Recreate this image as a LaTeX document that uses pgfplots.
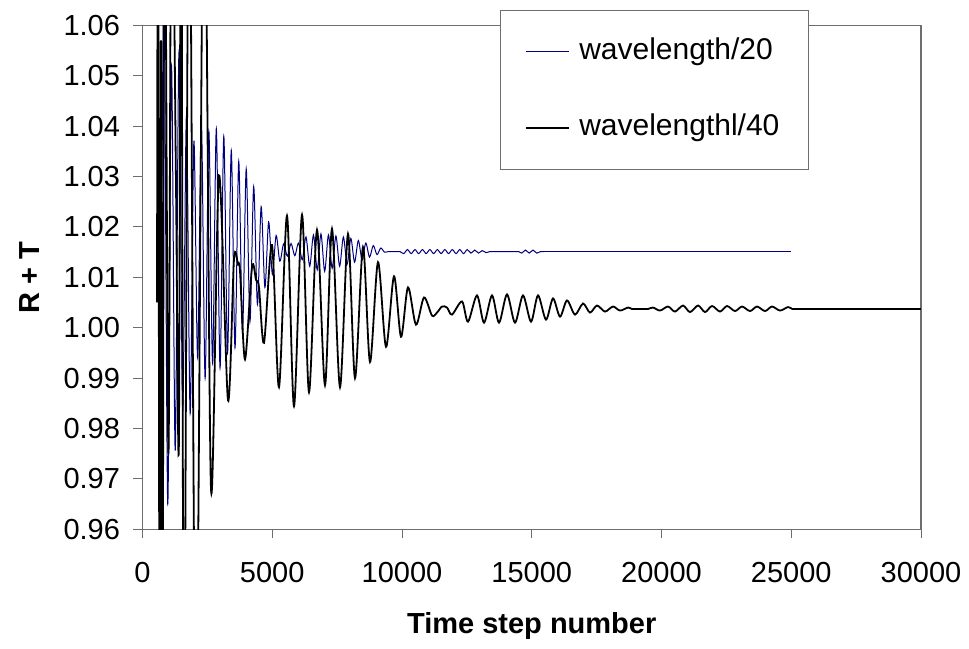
\documentclass[border=0pt]{standalone}
\usepackage{fontspec}
\setmainfont{Liberation Sans}
\usepackage{pgfplots}
\pgfplotsset{compat=1.18}
\usepackage{pgfplotstable}
\usetikzlibrary{calc}
\definecolor{navyline}{RGB}{0,0,128}
\definecolor{axgray}{RGB}{110,110,110}

\pgfplotstableread{
step val
636 1.0150
713 1.0060
829 1.0680
973 0.9650
1117 1.0520
1261 0.9756
1405 1.0545
1549 0.9836
1693 1.0420
1837 0.9830
1981 1.0370
2125 0.9940
2269 1.0410
2413 0.9900
2557 1.0390
2701 0.9930
2845 1.0395
2989 0.9920
3133 1.0380
3277 0.9950
3421 1.0352
3565 0.9960
3709 1.0330
3853 0.9990
3997 1.0315
4141 1.0012
4285 1.0280
4429 1.0046
4573 1.0240
4717 1.0080
4861 1.0210
5005 1.0106
5149 1.0183
5293 1.0132
5437 1.0166
5581 1.0142
5725 1.0167
5869 1.0143
6013 1.0168
6157 1.0135
6301 1.0180
6445 1.0122
6589 1.0184
6733 1.0115
6877 1.0186
7021 1.0112
7165 1.0184
7309 1.0118
7453 1.0182
7597 1.0122
7741 1.0180
7885 1.0126
8029 1.0177
8173 1.0130
8317 1.0173
8461 1.0135
8605 1.0168
8749 1.0140
8893 1.0163
9037 1.0145
9181 1.0158
9325 1.0150
9469 1.0151
9613 1.0151
9757 1.0151
9923 1.0151
10067 1.0147
10211 1.0155
10355 1.0147
10499 1.0155
10643 1.0147
10787 1.0155
10931 1.0147
11075 1.0155
11219 1.0147
11363 1.0155
11507 1.0147
11651 1.0155
11795 1.0147
11939 1.0155
12083 1.0147
12227 1.0155
12371 1.0147
12515 1.0155
12659 1.0148
12803 1.0154
12947 1.0148
13091 1.0153
13235 1.0149
13379 1.0151
13523 1.0151
13667 1.0151
13811 1.0151
13955 1.0151
14099 1.0151
14243 1.0151
14387 1.0151
14500 1.0151
14615 1.0148
14759 1.0154
14903 1.0148
15047 1.0154
15191 1.0148
15335 1.0151
15479 1.0151
}\bluedata

\pgfplotstableread{
step val
15479 1.0151
25000 1.0151
}\bluetail

\pgfplotstableread{
step val
560 1.0050
600 1.1000
660 0.9200
710 1.0570
770 0.9200
850 1.1000
1000 0.9750
1120 1.1000
1290 1.0290
1400 0.9760
1490 1.1000
1600 0.9200
1800 1.1000
2060 0.9200
2370 1.1000
2640 0.9680
2948 1.0302
3295 0.9856
3526 1.0136
3681 1.0125
3758 1.0112
3950 0.9937
4220 1.0120
4374 1.0095
4490 1.0080
4682 0.9970
4990 1.0164
5260 0.9882
5569 1.0222
5838 0.9844
6147 1.0224
6416 0.9872
6725 1.0194
7033 0.9886
7302 1.0196
7611 0.9882
7919 1.0186
8189 0.9900
8497 1.0160
8767 0.9932
9075 1.0130
9384 0.9962
9692 1.0102
9962 0.9982
10231 1.0080
10540 1.0006
10848 1.0060
11156 1.0024
11349 1.0030
11542 1.0042
11734 1.0040
11927 1.0026
12312 1.0052
12543 1.0012
12890 1.0064
13161 1.0010
13469 1.0064
13739 1.0010
14047 1.0066
14355 1.0010
14663 1.0064
14972 1.0012
15241 1.0064
15549 1.0016
15819 1.0058
16089 1.0022
16359 1.0054
16667 1.0026
16975 1.0048
17245 1.0030
17515 1.0044
17823 1.0032
18131 1.0042
18401 1.0034
18709 1.0040
18864 1.0037
19018 1.0037
19172 1.0037
19326 1.0037
19480 1.0037
19673 1.0040
19943 1.0034
20251 1.0042
20521 1.0032
20829 1.0044
21099 1.0031
21408 1.0044
21677 1.0031
21947 1.0043
22255 1.0032
22525 1.0043
22833 1.0033
23103 1.0042
23411 1.0033
23681 1.0042
23989 1.0033
24259 1.0042
24567 1.0034
24875 1.0041
25030 1.0037
}\blackdata

\pgfplotstableread{
step val
25030 1.0037
30000 1.0037
}\blacktail

\begin{document}
\begin{tikzpicture}
\begin{axis}[
  name=ax,
  width=778.5pt, height=504pt, scale only axis,
  xmin=0, xmax=30000, ymin=0.96, ymax=1.06,
  xtick={0,5000,10000,15000,20000,25000,30000},
  ytick={0.96,0.97,0.98,0.99,1.00,1.01,1.02,1.03,1.04,1.05,1.06},
  scaled x ticks=false, scaled y ticks=false,
  tick align=outside,
  xtick pos=left, ytick pos=left,
  major tick length=9pt,
  tick style={axgray, line width=1pt},
  axis line style={axgray, line width=1.2pt},
  /pgf/number format/assume math mode=true,
  every tick label/.append style={font=\fontsize{29}{34}\selectfont},
  yticklabel style={xshift=-10pt, /pgf/number format/.cd, fixed, fixed zerofill, precision=2},
  xticklabel style={yshift=-20pt, /pgf/number format/.cd, fixed, 1000 sep={}},
  xlabel={Time step number},
  ylabel={R + T},
  label style={font=\fontsize{29}{34}\selectfont\bfseries},
  xlabel style={at={(axis description cs:0.5,-0.192)}, anchor=center},
  ylabel style={at={(axis description cs:-0.1445,0.5)}, anchor=center},
  legend style={at={(axis description cs:0.4592,1.0304)}, anchor=north west,
    draw=axgray, line width=1pt, fill=white,
    font=\fontsize{30}{34}\selectfont,
    inner xsep=25pt, inner ysep=24pt, row sep=41pt,
    nodes={inner sep=4pt, text height=21pt, text depth=6pt}},
  legend cell align=left,
  legend image code/.code={\draw[#1] (0pt,0pt) -- (43pt,0pt); \path (48pt,0pt);},
]
\addplot[navyline, line width=1pt, smooth, tension=0.5] table[x=step, y=val] {\bluedata};
\addlegendentry{wavelength/20}
\addplot[forget plot, navyline, line width=1pt] table[x=step, y=val] {\bluetail};
\addplot[black, line width=1.8pt, smooth, tension=0.5] table[x=step, y=val] {\blackdata};
\addlegendentry{wavelengthl/40}
\addplot[forget plot, black, line width=1.8pt] table[x=step, y=val] {\blacktail};
\end{axis}
\path ($(ax.south west)+(-142.5pt,-118.7pt)$) rectangle ($(ax.north east)+(48pt,25.3pt)$);
\end{tikzpicture}
\end{document}
